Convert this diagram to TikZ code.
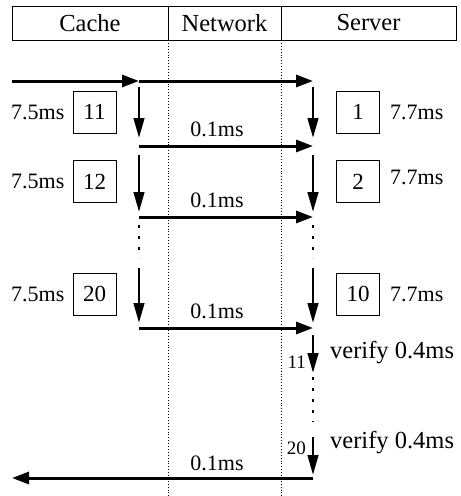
\documentclass[tikz,border=0pt]{standalone}
\usepackage{fontspec}
\setmainfont{Liberation Serif}
\usetikzlibrary{arrows.meta,positioning,calc}

\begin{document}
\begin{tikzpicture}[
    x=1pt, y=-1pt,
    lane/.style={draw, line width=0.9pt, minimum height=34pt, inner sep=0pt, outer sep=0pt, font=\fontsize{24.5}{28}\selectfont},
    divider/.style={dotted, line width=0.9pt},
    message/.style={line width=3pt, -{Triangle[length=17pt,width=12pt]}},
    lookup/.style={line width=2.8pt, -{Triangle[length=20pt,width=10.5pt]}},
    gap/.style={line width=2.8pt, dash pattern=on 3pt off 8pt},
    slot/.style={draw, line width=0.9pt, minimum width=43pt, minimum height=42pt, inner sep=0pt, font=\fontsize{23}{26}\selectfont},
    timing/.style={font=\fontsize{22}{26}\selectfont, inner sep=0pt},
    verify/.style={font=\fontsize{24.5}{28}\selectfont, inner sep=0pt, anchor=west},
    tag/.style={font=\fontsize{19}{22}\selectfont, inner sep=0pt, anchor=east}
]
    \useasboundingbox (0,0) rectangle (461,496);

    % Lanes
    \node[lane, minimum width=156pt] (cache) at (90,23) {Cache};
    \node[lane, minimum width=113pt, right=0pt of cache] (net) {Network};
    \node[lane, minimum width=175pt, right=0pt of net] (server) {Server};

    % Network boundaries
    \draw[divider] (net.south west) -- ++(0,456);
    \draw[divider] (net.south east) -- ++(0,456);

    % Request comes into the cache and is passed on
    \coordinate (in) at (12,81);
    \coordinate (c0) at (139,81);
    \coordinate (s0) at (313,81);
    \draw[message] (in) -- (c0);
    \draw[message] (c0) -- (s0);

    % Lookup rounds on both sides
    \foreach \i/\ya/\yz/\yh/\yb/\cnum/\snum/\yr in {
        1/87/138/146/112/11/1/112,
        2/155/212/217/181.5/12/2/177,
        3/268/323/328/294/20/10/294
    } {
        \coordinate (ct\i) at (139,\ya);
        \coordinate (cb\i) at (139,\yz);
        \coordinate (st\i) at (313,\ya);
        \coordinate (sb\i) at (313,\yz);
        \coordinate (ch\i) at (139,\yh);
        \coordinate (sh\i) at (313,\yh);
        \draw[lookup] (ct\i) -- (cb\i);
        \draw[lookup] (st\i) -- (sb\i);
        \draw[message] (ch\i) -- (sh\i);
        \node[slot] (cslot\i) at (94.5,\yb) {\cnum};
        \node[timing, left=8pt of cslot\i] (ctime\i) {7.5ms};
        \node[slot] (sslot\i) at (358,\yb) {\snum};
        \node[timing, anchor=west] (stime\i) at (390,\yr) {7.7ms};
        \node[timing] (hop\i) at (217,\yh-17) {0.1ms};
    }

    % Skipped rounds
    \coordinate (cg1) at (139,225);
    \coordinate (cg2) at (139,258);
    \coordinate (sg1) at (313,225);
    \coordinate (sg2) at (313,258);
    \draw[gap] (cg1) -- (cg2);
    \draw[gap] (sg1) -- (sg2);

    % Server verifies
    \coordinate (v1a) at (313,335);
    \coordinate (v1b) at (313,373);
    \draw[lookup] (v1a) -- (v1b);
    \node[tag] (n11) at (306,362) {11};
    \node[verify] (ver1) at (330,353) {verify 0.4ms};
    \coordinate (vg1) at (313,377);
    \coordinate (vg2) at (313,422);
    \draw[gap] (vg1) -- (vg2);
    \coordinate (v2a) at (313,437);
    \coordinate (v2b) at (313,475);
    \draw[lookup] (v2a) -- (v2b);
    \node[tag] (n20) at (306,448) {20};
    \node[verify] (ver2) at (330,443) {verify 0.4ms};

    % Answer goes back
    \coordinate (back) at (313,478);
    \coordinate (out) at (12,478);
    \draw[message] (back) -- (out);
    \node[timing] (hop4) at (217,463) {0.1ms};
\end{tikzpicture}
\end{document}
